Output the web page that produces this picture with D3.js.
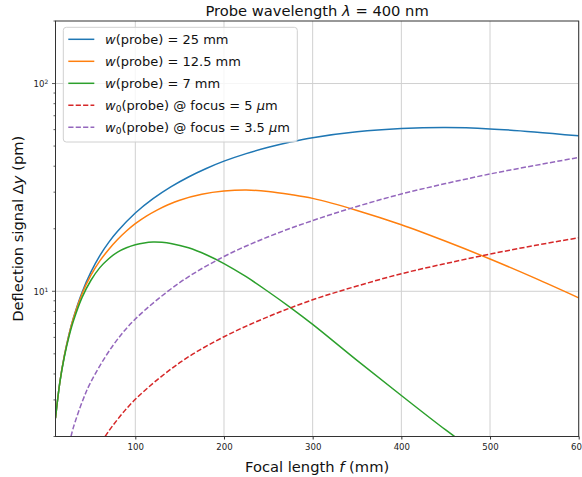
<!DOCTYPE html>
<html><head><meta charset="utf-8">
<script src="https://cdnjs.cloudflare.com/ajax/libs/d3/7.8.5/d3.min.js"></script>
<style>body{margin:0;background:#fff}svg{display:block;font-family:"DejaVu Sans",sans-serif}</style>
</head><body><svg id="c" width="582" height="477"></svg>
<script>
// ---- data ----
const fBlue = [10,15,20,25,30,40,50,60,70,80,100,120,140,160,180,200,225,250,275,300,350,400,450,500,550,600];
const blueVals = [2.45,3.68,4.9,6.15,7.4,9.9,12.4,14.85,17.2,19.45,23.8,27.9,31.8,35.5,39.0,42.3,46.0,49.3,52.3,54.9,58.6,60.7,61.4,60.5,58.5,56.0];
const fOrange = [10,15,20,25,30,40,50,60,70,80,90,100,112.5,125,137.5,150,175,200,225,250,275,300,350,400,450,500,550,600];
const orangeVals = [2.45,3.68,4.9,6.12,7.35,9.73,11.95,14.0,15.9,17.75,19.5,21.15,23.0,24.65,26.15,27.45,29.3,30.35,30.7,30.25,29.25,28.0,24.5,20.9,17.4,14.3,11.6,9.3];
const fGreen = [10,15,20,25,30,40,50,60,70,80,90,100,110,120,130,140,160,180,200,225,250,275,300,350,400,450,475];
const greenVals = [2.45,3.66,4.84,6.0,7.15,9.35,11.3,13.0,14.35,15.45,16.2,16.75,17.1,17.25,17.2,17.0,16.2,15.0,13.6,11.75,9.95,8.35,6.93,4.65,3.15,2.15,1.8];
const fRed = [66,75,100,150,200,250,300,350,400,450,500,550,600];
const redVals = [2.0,2.27,3.02,4.53,6.04,7.55,9.1,10.6,12.15,13.6,15.1,16.6,18.1];
const fPurple = [27.5,30,40,50,75,100,150,200,250,300,350,400,450,500,550,600];
const purpleVals = [2.0,2.2,2.93,3.67,5.5,7.35,11.0,14.7,18.3,21.9,25.6,29.4,33.0,36.7,40.3,44.1];

const xTickVals = [100,200,300,400,500,600];
const yMajorTicks = [10,100];
const yMinorTicks = [2,3,4,5,6,7,8,9,20,30,40,50,60,70,80,90,200];

const seriesColors = ["#1f77b4","#ff7f0e","#2ca02c","#d62728","#9467bd"];
const seriesDashed = [false,false,false,true,true];
// legend labels as [text, style] parts: i = italic, s = subscript
const legendLabels = [
  [["w","i"],["(probe) = 25 mm",""]],
  [["w","i"],["(probe) = 12.5 mm",""]],
  [["w","i"],["(probe) = 7 mm",""]],
  [["w","i"],["0","s"],["(probe) @ focus = 5 ",""],["μ","i"],["m",""]],
  [["w","i"],["0","s"],["(probe) @ focus = 3.5 ",""],["μ","i"],["m",""]]
];
const titleParts = [["Probe wavelength ",""],["λ","i"],[" = 400 nm",""]];
const xLabelParts = [["Focal length ",""],["f","i"],[" (mm)",""]];
const yLabelParts = [["Deflection signal Δ",""],["y","i"],[" (pm)",""]];

// ---- layout ----
const L=55.5, R=578.7, T=21, B=436.5;
const svg = d3.select("#c");
const x = d3.scaleLinear().domain([10,600]).range([L,R]);
const y = d3.scaleLog().domain([2,200]).range([B,T]);

function addParts(sel, parts){
  let prevSub = false;
  parts.forEach(([t,s])=>{
    const ts = sel.append("tspan").text(t);
    if(s==="i") ts.attr("font-style","italic");
    if(s==="s"){ ts.attr("font-size","0.7em").attr("dy","0.25em"); prevSub = true; return; }
    if(prevSub){ ts.attr("dy","-0.175em"); prevSub = false; }
  });
}

// grid
const g = svg.append("g");
g.selectAll("line.gx").data(xTickVals).join("line")
  .attr("x1",d=>x(d)).attr("x2",d=>x(d)).attr("y1",T).attr("y2",B)
  .attr("stroke","#d0d0d0").attr("stroke-width",1);
g.selectAll("line.gy").data(yMajorTicks).join("line")
  .attr("x1",L).attr("x2",R).attr("y1",d=>y(d)).attr("y2",d=>y(d))
  .attr("stroke","#d0d0d0").attr("stroke-width",1);

// clip
svg.append("clipPath").attr("id","clip").append("rect")
  .attr("x",L).attr("y",T).attr("width",R-L).attr("height",B-T);

const series = [
  [fBlue, blueVals],[fOrange, orangeVals],[fGreen, greenVals],[fRed, redVals],[fPurple, purpleVals]
];
const line = d3.line().x(d=>x(d[0])).y(d=>y(d[1])).curve(d3.curveCatmullRom.alpha(0.5));
const lg = svg.append("g").attr("clip-path","url(#clip)");
series.forEach(([fx,vals],i)=>{
  const pts = fx.map((f,j)=>[f,vals[j]]);
  lg.append("path").attr("d",line(pts)).attr("fill","none")
    .attr("stroke",seriesColors[i]).attr("stroke-width",1.5)
    .attr("stroke-dasharray",seriesDashed[i]?"5.2,2.2":null);
});

// axes
const xAxis = d3.axisBottom(x).tickValues(xTickVals).tickSize(3).tickPadding(4).tickFormat(d3.format("d"));
const ax = svg.append("g").attr("transform",`translate(0,${B})`).call(xAxis);
ax.select(".domain").remove();
ax.selectAll("line").attr("stroke","#333");
ax.selectAll("text").attr("font-size","8.6px").attr("fill","#222").attr("font-family","DejaVu Sans");

const ay = svg.append("g").attr("transform",`translate(${L},0)`);
ay.selectAll("line.mi").data(yMinorTicks).join("line")
  .attr("x1",-2).attr("x2",0).attr("y1",d=>y(d)).attr("y2",d=>y(d)).attr("stroke","#333").attr("stroke-width",0.8);
ay.selectAll("line.ma").data(yMajorTicks).join("line")
  .attr("x1",-3.5).attr("x2",0).attr("y1",d=>y(d)).attr("y2",d=>y(d)).attr("stroke","#333").attr("stroke-width",0.8);
ay.selectAll("text").data(yMajorTicks).join("text")
  .attr("x",-7.3).attr("y",d=>y(d)).attr("dy","0.42em").attr("text-anchor","end")
  .attr("font-size","8.6px").attr("fill","#222")
  .each(function(d){
    const t=d3.select(this);
    t.append("tspan").text("10");
    t.append("tspan").text(String(Math.round(Math.log10(d)))).attr("font-size","6px").attr("dy","-0.45em");
  });

// spines
svg.append("rect").attr("x",L).attr("y",T).attr("width",R-L).attr("height",B-T)
  .attr("fill","none").attr("stroke","#333").attr("stroke-width",1);

// title & labels
const title = svg.append("text").attr("x",(L+R)/2).attr("y",16).attr("text-anchor","middle")
  .attr("font-size","14.7px").attr("fill","#111");
addParts(title,titleParts);
const xl = svg.append("text").attr("x",(L+R)/2).attr("y",471.5).attr("text-anchor","middle")
  .attr("font-size","14.7px").attr("fill","#111");
addParts(xl,xLabelParts);
const yl = svg.append("text").attr("transform",`translate(23,${(T+B)/2}) rotate(-90)`).attr("text-anchor","middle")
  .attr("font-size","14.7px").attr("fill","#111");
addParts(yl,yLabelParts);

// legend
const leg = svg.append("g");
leg.append("rect").attr("x",63.3).attr("y",27.3).attr("width",234).attr("height",114.7).attr("rx",3)
  .attr("fill","#fff").attr("fill-opacity",0.8).attr("stroke","#d0d0d0").attr("stroke-width",1);
const rowY = d3.scaleLinear().domain([0,4]).range([39.3,127.3]);
legendLabels.forEach((parts,i)=>{
  leg.append("line").attr("x1",68.3).attr("x2",94.3).attr("y1",rowY(i)).attr("y2",rowY(i))
    .attr("stroke",seriesColors[i]).attr("stroke-width",1.5)
    .attr("stroke-dasharray",seriesDashed[i]?"5.2,2.2":null);
  const t = leg.append("text").attr("x",105).attr("y",rowY(i)).attr("dy","0.36em")
    .attr("font-size","13px").attr("fill","#111");
  addParts(t,parts);
});
</script></body></html>
